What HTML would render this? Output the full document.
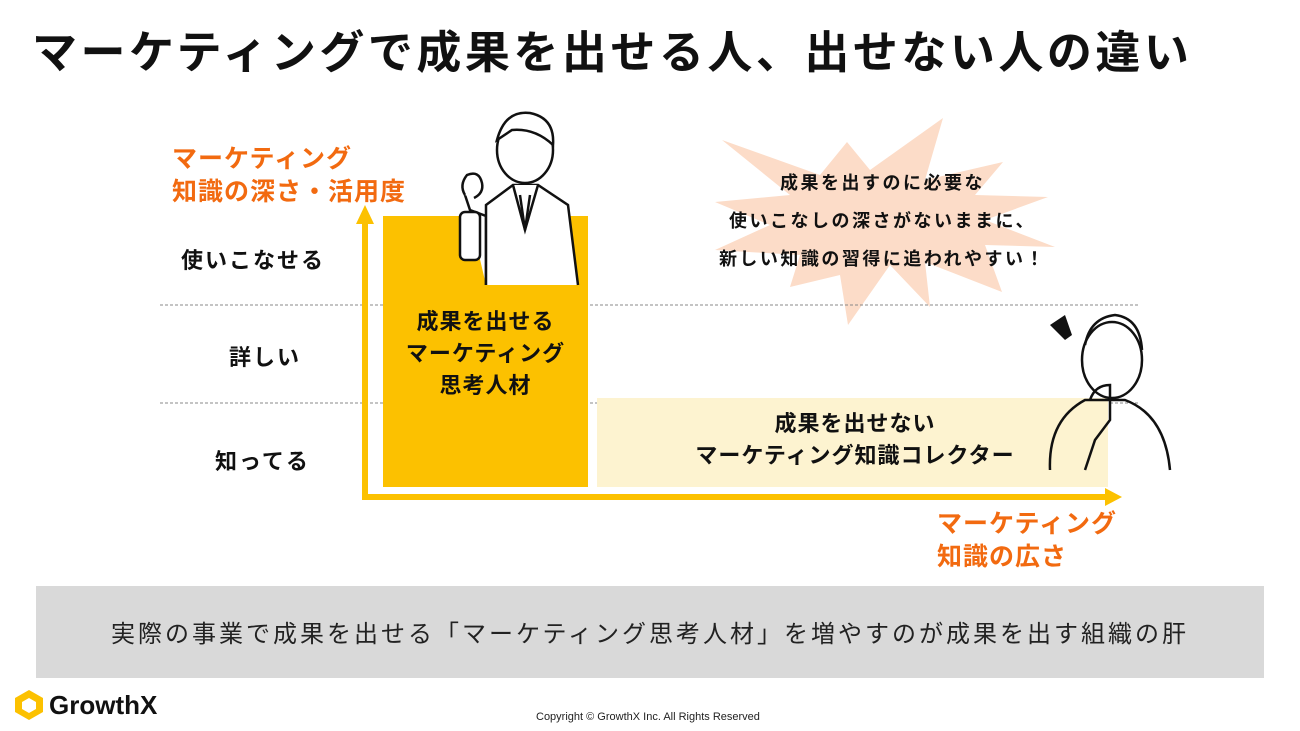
<!DOCTYPE html>
<html><head><meta charset="utf-8"><style>
body{margin:0;width:1300px;height:731px;background:#fff;position:relative;overflow:hidden;font-family:"Liberation Sans","Noto Sans CJK JP",sans-serif;}
.a{position:absolute;white-space:nowrap}
.b{font-weight:bold}
</style></head><body>
<div class="a b" style="left:32px;top:16px;font-size:45px;color:#111;letter-spacing:3.5px">マーケティングで成果を出せる人、出せない人の違い</div>

<svg class="a" style="left:0;top:0" width="1300" height="731">
<polygon points="722,140 820,175 847,142 870,170 943,118 925,180 1003,162 975,195 1048,197 985,220 1055,247 985,245 1002,292 925,262 930,307 890,265 848,325 840,275 790,287 800,255 715,250 770,225 715,202 790,195" fill="#fcdcc8"/>
<line x1="160" y1="305" x2="1140" y2="305" stroke="#888" stroke-dasharray="3,2" stroke-width="1"/>
<line x1="160" y1="403" x2="1140" y2="403" stroke="#888" stroke-dasharray="3,2" stroke-width="1"/>
<rect x="383" y="216" width="205" height="271" fill="#fcc100"/>
<rect x="597" y="398" width="511" height="89" fill="#fdf3d0"/>
<line x1="365" y1="497" x2="365" y2="222" stroke="#fcc100" stroke-width="6"/>
<polygon points="356,224 374,224 365,205" fill="#fcc100"/>
<line x1="362" y1="497" x2="1108" y2="497" stroke="#fcc100" stroke-width="6"/>
<polygon points="1105,488 1105,506 1122,497" fill="#fcc100"/>
<g stroke="#111" stroke-width="2.5" fill="#fff">
<path d="M486,285 L486,216 L470,210 L465,195"/>
<rect x="460" y="212" width="20" height="48" rx="5"/>
<path d="M465,195 q-6,-10 2,-20 q12,-5 15,8 q2,10 -8,15" />
<path d="M486,285 L486,205 L513,185 L538,185 L568,205 L578,285"/>
<path d="M513,185 L525,230 L538,185"/>
<path d="M520,195 L525,230 L530,195"/>
<ellipse cx="525" cy="150" rx="28" ry="33"/>
<path d="M497,140 Q505,110 530,113 Q555,118 553,145 Q535,128 512,130 Z" fill="#fff"/>
</g>
<g stroke="#111" stroke-width="2.5" fill="none">
<path d="M1050,470 Q1048,420 1085,400 L1125,400 Q1165,415 1170,470"/>
<ellipse cx="1112" cy="360" rx="30" ry="38" fill="#fff"/>
<path d="M1085,345 Q1090,318 1115,315 Q1140,318 1142,350"/>
<path d="M1090,400 Q1095,385 1110,385 L1110,420 L1095,440 L1085,470"/>
</g>
<polygon points="1050,325 1065,315 1072,335 1065,340" fill="#111"/>
</svg>

<div class="a b" style="left:172px;top:143px;font-size:25px;color:#f26a10;line-height:33px;letter-spacing:1px">マーケティング<br>知識の深さ・活用度</div>
<div class="a b" style="left:181px;top:243px;font-size:22px;color:#111;letter-spacing:2px">使いこなせる</div>
<div class="a b" style="left:229px;top:340px;font-size:22px;color:#111;letter-spacing:2px">詳しい</div>
<div class="a b" style="left:215px;top:444px;font-size:22px;color:#111;letter-spacing:2px">知ってる</div>
<div class="a b" style="left:383px;top:306px;width:205px;text-align:center;font-size:22px;color:#111;line-height:32px;letter-spacing:1px">成果を出せる<br>マーケティング<br>思考人材</div>
<div class="a b" style="left:640px;top:408px;width:430px;text-align:center;font-size:22px;color:#111;line-height:32px;letter-spacing:1px">成果を出せない<br>マーケティング知識コレクター</div>
<div class="a b" style="left:700px;top:164px;width:365px;text-align:center;font-size:18px;color:#111;line-height:38px;letter-spacing:2.5px">成果を出すのに必要な<br>使いこなしの深さがないままに、<br>新しい知識の習得に追われやすい！</div>
<div class="a b" style="left:937px;top:508px;font-size:25px;color:#f26a10;line-height:33px;letter-spacing:1px">マーケティング<br>知識の広さ</div>

<div class="a" style="left:36px;top:586px;width:1228px;height:92px;background:#d9d9d9"></div>
<div class="a" style="left:36px;top:614px;width:1228px;text-align:center;font-size:24px;color:#222;letter-spacing:3px">実際の事業で成果を出せる「マーケティング思考人材」を増やすのが成果を出す組織の肝</div>

<svg class="a" style="left:12px;top:688px" width="34" height="34"><polygon points="17,2 31,10 31,24 17,32 3,24 3,10" fill="#fcc100"/><polygon points="17,10 24,14 24,21 17,25 10,21 10,14" fill="#fff"/></svg>
<div class="a b" style="left:49px;top:690px;font-size:26px;color:#111">GrowthX</div>
<div class="a" style="left:536px;top:711px;font-size:11px;color:#222">Copyright © GrowthX Inc. All Rights Reserved</div>
</body></html>
